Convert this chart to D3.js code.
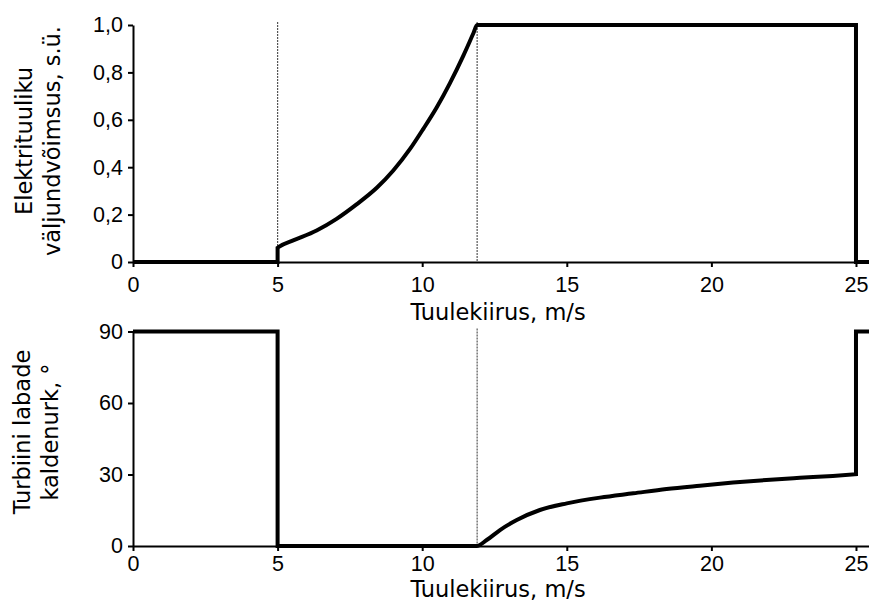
<!DOCTYPE html>
<html>
<head>
<meta charset="utf-8">
<script src="https://cdn.jsdelivr.net/npm/d3@7"></script>
<style>
    body { margin: 0; background: #fff; }
    svg { display: block; font-family: "DejaVu Sans", Verdana, sans-serif; }
    .axis path, .axis line { stroke: #000; stroke-width: 2px; }
    .axis text { font-size: 21.5px; fill: #000; }
    .title { font-size: 22.5px; fill: #000; }
    .curve { fill: none; stroke: #000; stroke-width: 4px; stroke-linejoin: miter; }
    .guide { stroke: #555; stroke-width: 1.2px; stroke-dasharray: 2,1; }
</style>
</head>
<body>
<div id="chart"></div>
<script>
'use strict';

// wind speed range shown (axis runs a little past 25 m/s)
var speedMax = 25.45;
var speedTicks = [0, 5, 10, 15, 20, 25];

// output power, p.u.
var powerSpeed = [0, 5, 5, 5.06, 5.54, 6.35, 7.04, 7.73, 8.43, 9.0, 9.58, 10.04, 10.5, 10.96, 11.42, 11.77, 11.9, 25, 25, 25.45];
var powerValue = [0, 0, 0.06, 0.065, 0.091, 0.133, 0.182, 0.243, 0.313, 0.386, 0.477, 0.562, 0.652, 0.755, 0.87, 0.965, 1.0, 1.0, 0, 0];
var powerTicks = [0, 0.2, 0.4, 0.6, 0.8, 1.0];
var powerGuides = [5, 11.9];

// blade pitch angle, degrees
var pitchSpeed = [0, 5, 5, 11.88, 12.23, 12.69, 13.27, 14.07, 15.0, 16.15, 17.3, 18.45, 19.6, 20.75, 21.9, 23.06, 24.2, 25, 25, 25.45];
var pitchValue = [90, 90, 0, 0, 2.5, 6.7, 10.9, 15.1, 17.9, 20.3, 22.1, 23.9, 25.3, 26.6, 27.7, 28.6, 29.4, 30.1, 90, 90];
var pitchTicks = [0, 30, 60, 90];
var pitchGuides = [11.9];

var xTitle = 'Tuulekiirus, m/s';
var powerTitle = ['Elektrituuliku', 'väljundvõimsus, s.ü.'];
var pitchTitle = ['Turbiini labade', 'kaldenurk, °'];

var svgWidth = 869,
    svgHeight = 601;

var svg = d3.select('#chart').append('svg')
    .attr('width', svgWidth)
    .attr('height', svgHeight);

var x = d3.scaleLinear().domain([0, speedMax]).range([133, 869]);

function fmt(d) {
    return String(d).replace('.', ',');
}

// split a series into runs at the vertical jumps, smooth each run,
// then glue the pieces into one path
function stepSmoothPath(pts, y) {
    var line = d3.line()
        .x(function(d) { return x(d[0]); })
        .y(function(d) { return y(d[1]); })
        .curve(d3.curveMonotoneX);
    var runs = [[pts[0]]];
    for (var i = 1; i < pts.length; i++) {
        if (pts[i][0] === pts[i - 1][0]) {
            runs.push([pts[i]]);
        } else {
            runs[runs.length - 1].push(pts[i]);
        }
    }
    return runs.map(function(r, i) {
        var d = r.length > 1 ? line(r) : 'M' + x(r[0][0]) + ',' + y(r[0][1]);
        return i ? 'L' + d.slice(1) : d;
    }).join('');
}

function drawPanel(opts) {
    var y = d3.scaleLinear().domain(opts.yDomain).range(opts.yRange);
    var g = svg.append('g');

    // axes
    g.append('g')
        .attr('class', 'axis')
        .attr('transform', 'translate(0,' + opts.yRange[0] + ')')
        .call(d3.axisBottom(x)
            .tickValues(speedTicks)
            .tickSizeInner(5)
            .tickSizeOuter(0)
            .tickPadding(opts.xPad))
        .selectAll('text')
        .text(function(d) { return d; });

    g.append('g')
        .attr('class', 'axis')
        .attr('transform', 'translate(' + x(0) + ',0)')
        .call(d3.axisLeft(y)
            .tickValues(opts.yTicks)
            .tickSizeInner(5)
            .tickSizeOuter(0)
            .tickPadding(5)
            .tickFormat(opts.yFormat));

    // dashed guides
    g.selectAll('line.guide')
        .data(opts.guides)
        .enter().append('line')
        .attr('class', 'guide')
        .attr('x1', function(d) { return x(d); })
        .attr('x2', function(d) { return x(d); })
        .attr('y1', opts.yRange[1] - 3)
        .attr('y2', opts.yRange[0]);

    // data curve
    var pts = opts.xs.map(function(v, i) { return [v, opts.ys[i]]; });
    g.append('path')
        .attr('class', 'curve')
        .attr('d', stepSmoothPath(pts, y));

    // titles
    g.append('text')
        .attr('class', 'title')
        .attr('x', 498)
        .attr('y', opts.xTitleY)
        .attr('text-anchor', 'middle')
        .text(xTitle);

    var yt = g.append('text')
        .attr('class', 'title')
        .attr('transform', 'translate(' + opts.yTitleX + ',' + opts.yTitleY + ') rotate(-90)')
        .attr('text-anchor', 'middle');
    yt.selectAll('tspan')
        .data(opts.yTitle)
        .enter().append('tspan')
        .attr('x', 0)
        .attr('dy', function(d, i) { return i ? 28 : 0; })
        .text(function(d) { return d; });
}

drawPanel({
    yDomain: [0, 1],
    yRange: [262, 25],
    yTicks: powerTicks,
    yFormat: function(d) { return d === 0 ? '0' : fmt(d3.format('.1f')(d)); },
    guides: powerGuides,
    xs: powerSpeed,
    ys: powerValue,
    xPad: 10,
    xTitleY: 320,
    yTitle: powerTitle,
    yTitleX: 32,
    yTitleY: 141
});

drawPanel({
    yDomain: [0, 90],
    yRange: [546, 331.5],
    yTicks: pitchTicks,
    yFormat: function(d) { return d; },
    guides: pitchGuides,
    xs: pitchSpeed,
    ys: pitchValue,
    xPad: 5,
    xTitleY: 597,
    yTitle: pitchTitle,
    yTitleX: 30,
    yTitleY: 432
});
</script>
</body>
</html>
